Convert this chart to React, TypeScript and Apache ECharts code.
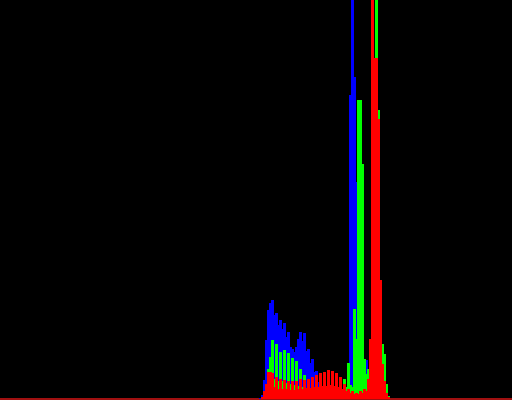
import React, { useEffect, useRef } from "react";
import * as echarts from "echarts";

// Histogram: 256 bins, bar heights in pixels above the baseline.
// Non-zero part starts at bin 128; all other bins are 0.
const BIN_COUNT = 256;
const START_BIN = 128;

const blueValues = [
  0, 0, 1, 4, 19, 59, 89, 96, 99, 84, // 128-137
  86, 74, 79, 70, 76, 62, 67, 52, 50, 47, // 138-147
  52, 60, 67, 58, 66, 48, 50, 36, 40, 27, // 148-157
  28, 17, 18, 10, 10, 6, 6, 4, 5, 3, // 158-167
  4, 3, 5, 4, 7, 4, 8, 304, 450, 322, // 168-177
  217, 10, 20, 12, 35, 39, 25, 12, 10, 8, // 178-187
  6, 4, 3, 2, 1, 0, // 188-193
];

const greenValues = [
  0, 0, 0, 1, 3, 10, 30, 42, 59, 20, // 128-137
  55, 18, 47, 18, 49, 16, 46, 15, 41, 14, // 138-147
  38, 13, 30, 12, 24, 10, 19, 8, 15, 7, // 148-157
  12, 6, 10, 5, 9, 5, 8, 5, 9, 5, // 158-167
  10, 6, 12, 8, 20, 12, 36, 14, 12, 90, // 168-177
  60, 299, 299, 235, 40, 25, 30, 40, 70, 120, // 178-187
  450, 289, 75, 55, 45, 15, 3, 0, // 188-195
];

const redValues = [
  0, 0, 0, 2, 8, 15, 27, 27, 26, 12, // 128-137
  22, 10, 20, 10, 19, 10, 18, 9, 18, 9, // 138-147
  18, 10, 20, 10, 19, 11, 20, 11, 22, 12, // 148-157
  24, 12, 26, 13, 27, 13, 29, 14, 28, 13, // 158-167
  26, 12, 22, 10, 15, 8, 10, 6, 8, 5, // 168-177
  6, 5, 8, 6, 10, 8, 20, 60, 450, 341, // 178-187
  341, 280, 119, 35, 18, 6, 2, 0, // 188-195
];

const seriesDefs = [
  { name: "B", color: "#0000ff", values: blueValues },
  { name: "G", color: "#00ff00", values: greenValues },
  { name: "R", color: "#ff0000", values: redValues },
];

function buildPoints(values: number[]): [number, number][] {
  const pts: [number, number][] = [];
  for (let i = 0; i < BIN_COUNT; i++) {
    const k = i - START_BIN;
    const v = k >= 0 && k < values.length ? values[k] : 0;
    pts.push([i, v]);
  }
  return pts;
}

export default function App() {
  const ref = useRef<HTMLDivElement>(null);
  useEffect(() => {
    if (!ref.current) return;
    const chart = echarts.init(ref.current, null, { renderer: "svg" });
    chart.setOption({
      animation: false,
      backgroundColor: "#000000",
      grid: { left: 0, right: 0, top: 0, bottom: 1 },
      xAxis: {
        type: "value",
        min: -0.25,
        max: 255.75,
        axisLine: { show: true, lineStyle: { color: "#a01010", width: 2 } },
        axisTick: { show: false },
        axisLabel: { show: false },
        splitLine: { show: false },
      },
      yAxis: {
        type: "value",
        min: 0,
        max: 399,
        show: false,
        splitLine: { show: false },
      },
      series: seriesDefs.map((s) => ({
        name: s.name,
        type: "bar",
        data: buildPoints(s.values),
        barWidth: 3,
        barGap: "-100%",
        clip: true,
        itemStyle: { color: s.color },
      })),
    });
    return () => chart.dispose();
  }, []);
  return (
    <div
      ref={ref}
      style={{
        position: "fixed",
        left: 0,
        top: 0,
        width: 512,
        height: 400,
        background: "#000",
      }}
    />
  );
}
